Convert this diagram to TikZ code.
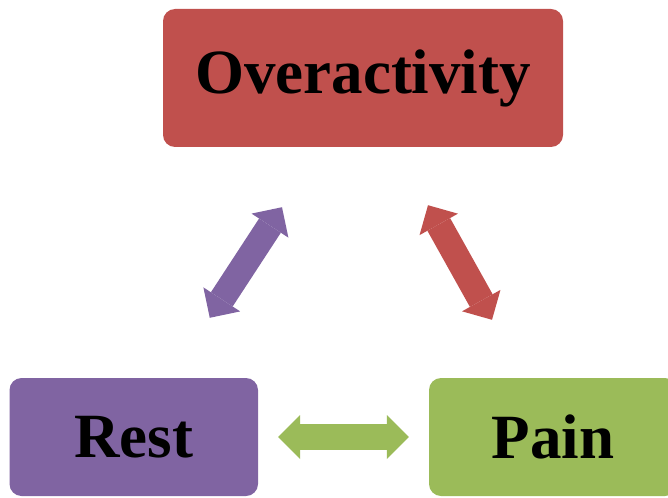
\documentclass[tikz,border=0pt]{standalone}
\usepackage{fontspec}
\setmainfont{Liberation Serif}
\usetikzlibrary{arrows.meta,calc}
\definecolor{overred}{HTML}{C0504D}
\definecolor{restpurple}{HTML}{8064A2}
\definecolor{paingreen}{HTML}{9BBB59}

\begin{document}
\begin{tikzpicture}[x=1pt,y=1pt]
    \tikzstyle{block} = [rectangle,rounded corners=12pt,inner sep=0pt,
    font=\fontsize{63}{63}\selectfont\bfseries];
    \tikzstyle{cycle} = [line width=26pt,
    {Triangle[length=22pt,width=44pt,line width=0pt]}-{Triangle[length=22pt,width=44pt,line width=0pt]}];

    \useasboundingbox (0,0) rectangle (668,-497);

    \node[block,name=overact,fill=overred,minimum width=400pt,minimum
    height=138pt] at (363,-78) {Overactivity};
    \node[block,name=rest,fill=restpurple,minimum width=248.5pt,minimum
    height=118pt,node distance=359pt,below of=overact,xshift=-229.25pt] {Rest};
    \node[block,name=pain,fill=paingreen,minimum width=248pt,minimum
    height=118pt,node distance=419.25pt,right of=rest] {Pain};

    \coordinate (restup) at ($(rest.north)+(76,60)$);
    \coordinate (overleft) at ($(overact.south)+(-81,-60)$);
    \coordinate (overright) at ($(overact.south)+(65,-58)$);
    \coordinate (painup) at ($(pain.north)+(-61,58)$);

    \draw[cycle,restpurple] (restup) -- (overleft);
    \draw[cycle,overred] (overright) -- (painup);
    \draw[cycle,paingreen,shorten <=20pt,shorten >=20pt] (rest.east) -- (pain.west);

  \end{tikzpicture}
\end{document}
